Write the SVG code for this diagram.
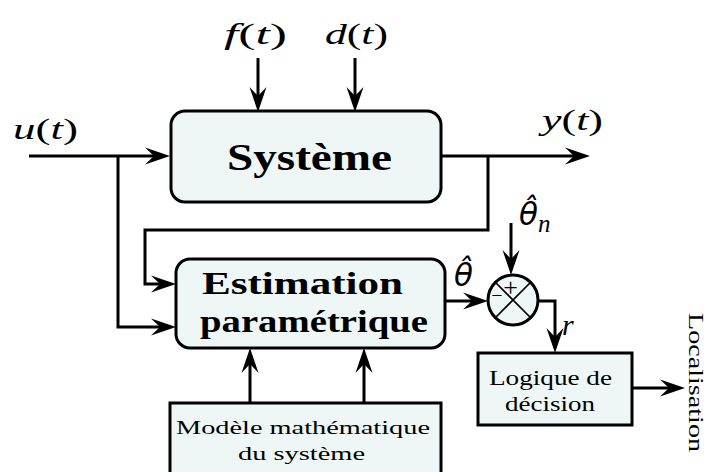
<svg xmlns="http://www.w3.org/2000/svg" width="711" height="472" viewBox="0 0 711 472">
<style>
.box{fill:#eef7f6;stroke:#000;stroke-width:3}
.ln{fill:none;stroke:#000;stroke-width:3;stroke-linejoin:miter}
.thin{fill:none;stroke:#000;stroke-width:1.6}
.bt{font-family:"Liberation Serif",serif;font-weight:bold;fill:#000}
.rt{font-family:"Liberation Serif",serif;fill:#000}
.mt{font-family:"Liberation Serif",serif;font-size:30px;fill:#000}
.th{font-family:"DejaVu Sans",sans-serif;font-style:italic;font-size:31px;fill:#000}
.it{font-style:italic}
</style>
<defs>
<marker id="arr" markerUnits="userSpaceOnUse" viewBox="-20 -10 32 20" markerWidth="32" markerHeight="20" refX="0" refY="0" orient="auto">
<path d="M10,0 L-15,-8.5 L-6,0 L-15,8.5 Z" fill="#000"/>
</marker>
</defs>
<rect width="711" height="472" fill="#fff"/>

<g id="connectors">
<path class="ln" d="M29,156 H160" marker-end="url(#arr)"/>
<path class="ln" d="M118,156 V327 H166" marker-end="url(#arr)"/>
<path class="ln" d="M441,156 H580" marker-end="url(#arr)"/>
<path class="ln" d="M488,156 V230 H145 V284 H166" marker-end="url(#arr)"/>
<path class="ln" d="M258,58 V102" marker-end="url(#arr)"/>
<path class="ln" d="M355,58 V102" marker-end="url(#arr)"/>
<path class="ln" d="M250,403 V358" marker-end="url(#arr)"/>
<path class="ln" d="M364,403 V358" marker-end="url(#arr)"/>
<path class="ln" d="M445,301 H478" marker-end="url(#arr)"/>
<path class="ln" d="M511,223 V265" marker-end="url(#arr)"/>
<path class="ln" d="M538,301 H555 V343" marker-end="url(#arr)"/>
<path class="ln" d="M632,388 H675" marker-end="url(#arr)"/>
</g>

<g id="labels">
<text class="mt" x="224" y="44" textLength="63" lengthAdjust="spacingAndGlyphs"><tspan class="it">f</tspan>(<tspan class="it">t</tspan>)</text>
<text class="mt" x="325" y="44" textLength="63" lengthAdjust="spacingAndGlyphs"><tspan class="it">d</tspan>(<tspan class="it">t</tspan>)</text>
<text class="mt" x="13" y="139" textLength="65" lengthAdjust="spacingAndGlyphs"><tspan class="it">u</tspan>(<tspan class="it">t</tspan>)</text>
<text class="mt" x="542" y="130" textLength="61" lengthAdjust="spacingAndGlyphs"><tspan class="it">y</tspan>(<tspan class="it">t</tspan>)</text>
<text class="th" x="454" y="286">θ̂</text>
<text class="th" x="519" y="225">θ̂<tspan font-family="Liberation Serif" font-size="25" dx="0" dy="7">n</tspan></text>
<text class="mt it" x="562" y="335" font-size="32">r</text>
<text class="rt" font-size="20" transform="translate(689,313) rotate(90)" x="0" y="0" textLength="139" lengthAdjust="spacingAndGlyphs">Localisation</text>
</g>

<g id="systeme">
<rect class="box" x="171" y="111" width="270" height="91" rx="14"/>
<text class="bt" font-size="38" x="227" y="170" textLength="165" lengthAdjust="spacingAndGlyphs">Système</text>
</g>

<g id="estimation">
<rect class="box" x="176" y="259" width="269" height="89" rx="14"/>
<text class="bt" font-size="31" x="202" y="294" textLength="201" lengthAdjust="spacingAndGlyphs">Estimation</text>
<text class="bt" font-size="31" x="200" y="332" textLength="228" lengthAdjust="spacingAndGlyphs">paramétrique</text>
</g>

<g id="modele">
<rect class="box" x="170" y="403" width="271" height="80"/>
<text class="rt" font-size="18" x="176" y="434" textLength="254" lengthAdjust="spacingAndGlyphs">Modèle mathématique</text>
<text class="rt" font-size="18" x="238" y="460" textLength="127" lengthAdjust="spacingAndGlyphs">du système</text>
</g>

<g id="sommateur">
<circle class="box" cx="513" cy="300" r="25"/>
<path class="thin" d="M495.3,282.3 L530.7,317.7 M530.7,282.3 L495.3,317.7"/>
<text class="rt" font-size="26" x="510.5" y="296" text-anchor="middle">+</text>
<text class="rt" font-size="20" x="497" y="302" text-anchor="middle">−</text>
</g>

<g id="logique">
<rect class="box" x="478" y="353" width="154" height="72"/>
<text class="rt" font-size="20" x="489" y="385" textLength="123" lengthAdjust="spacingAndGlyphs">Logique de</text>
<text class="rt" font-size="20" x="505" y="411" textLength="90" lengthAdjust="spacingAndGlyphs">décision</text>
</g>
</svg>
